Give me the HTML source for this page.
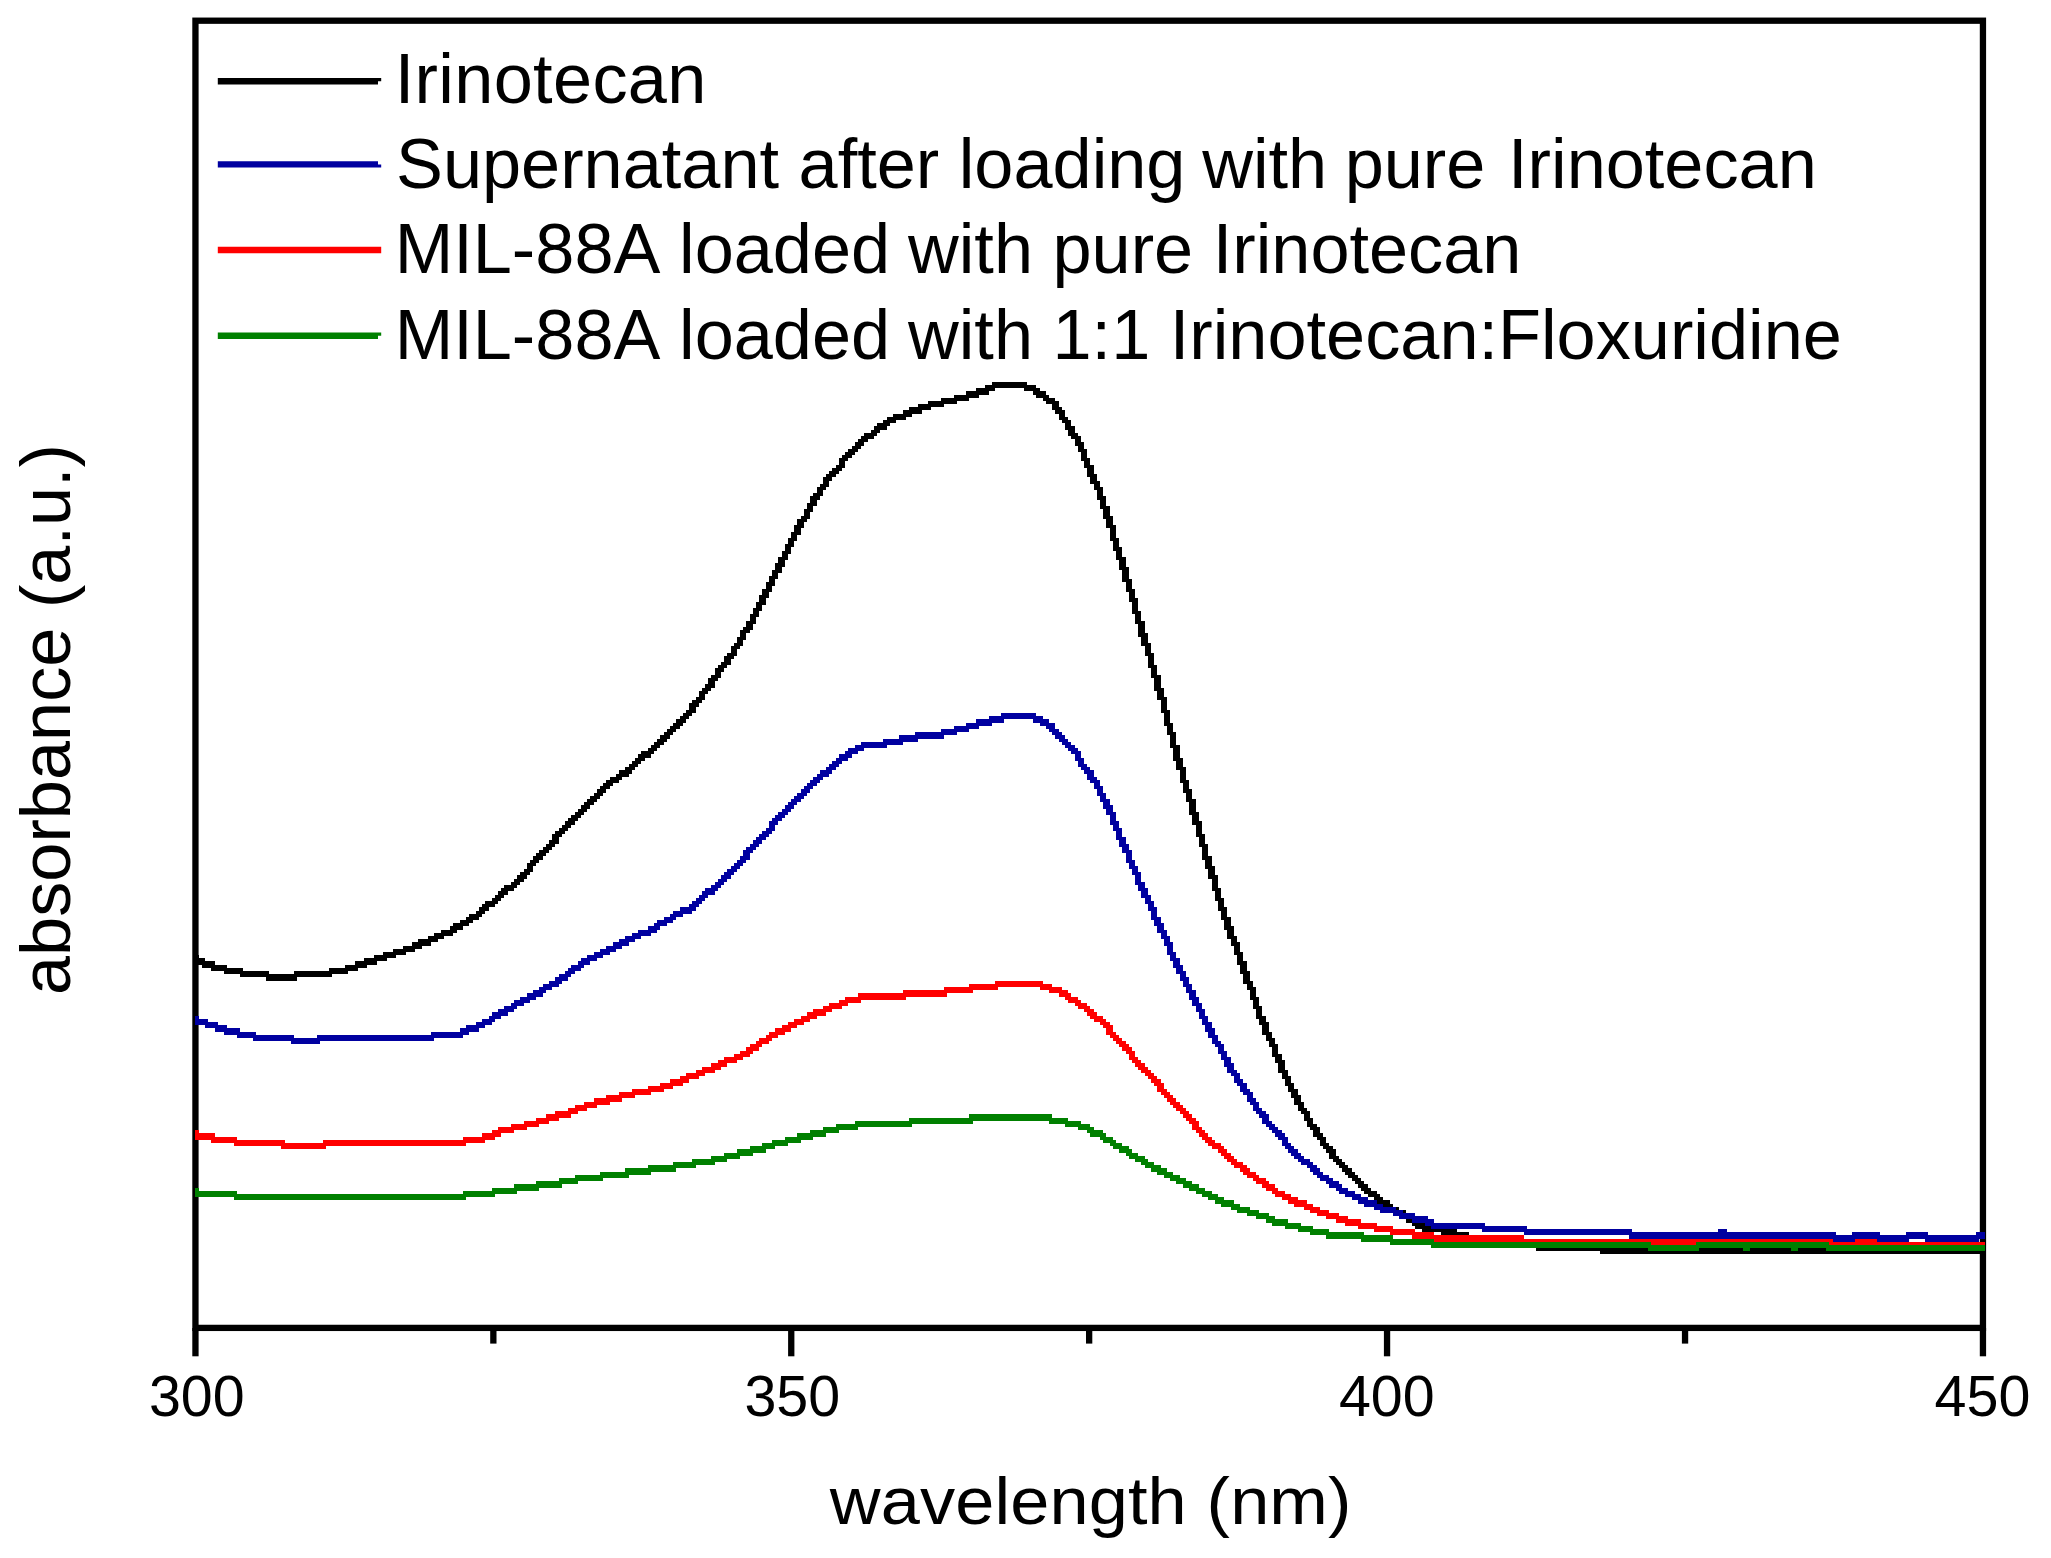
<!DOCTYPE html>
<html lang="en">
<head>
<meta charset="utf-8">
<title>UV-Vis absorbance</title>
<style>
html,body{margin:0;padding:0;background:#fff;}
body{width:2051px;height:1558px;overflow:hidden;}
svg{display:block;}
text{font-family:"Liberation Sans",Arial,sans-serif;fill:#000;}
.lg{font-size:70.3px;}
.tk{font-size:57.4px;text-anchor:middle;}
.ax{font-size:70.3px;text-anchor:middle;}
</style>
</head>
<body>
<svg width="2051" height="1558" viewBox="0 0 2051 1558">
<rect x="0" y="0" width="2051" height="1558" fill="#fff"/>
<!-- frame -->
<rect x="195.45" y="20.7" width="1787.5" height="1307.2" fill="none" stroke="#000" stroke-width="6.3"/>
<!-- ticks -->
<g fill="#000">
<rect x="192.3" y="1328" width="6.3" height="28.3"/>
<rect x="788.1" y="1328" width="6.3" height="28.3"/>
<rect x="1383.9" y="1328" width="6.3" height="28.3"/>
<rect x="1979.8" y="1328" width="6.3" height="28.3"/>
<rect x="490.2" y="1328" width="6.3" height="15.6"/>
<rect x="1086.0" y="1328" width="6.3" height="15.6"/>
<rect x="1681.9" y="1328" width="6.3" height="15.6"/>
</g>
<!-- curves -->
<g>
<path d="M992 382h35v3h-35zM985 385h51v3h-51zM976 388h19v3h-19zM1024 388h16v3h-16zM1033 391h13v4h-13zM966 391h23v4h-23zM1036 395h13v3h-13zM954 395h25v3h-25zM1043 398h12v3h-12zM941 398h28v3h-28zM928 401h29v3h-29zM1046 401h13v3h-13zM1052 404h7v3h-7zM918 404h26v3h-26zM909 407h22v3h-22zM1052 407h10v3h-10zM1055 410h10v4h-10zM903 410h19v4h-19zM893 414h19v3h-19zM1059 414h6v3h-6zM1059 417h9v3h-9zM887 417h19v3h-19zM883 420h13v3h-13zM1062 420h9v3h-9zM877 423h13v3h-13zM1065 423h6v3h-6zM1065 426h10v4h-10zM874 426h13v4h-13zM1068 430h7v3h-7zM871 430h9v3h-9zM1068 433h10v3h-10zM864 433h13v3h-13zM1071 436h10v3h-10zM861 436h13v3h-13zM1075 439h6v3h-6zM858 439h10v3h-10zM855 442h9v4h-9zM1075 442h9v4h-9zM1078 446h6v3h-6zM852 446h9v3h-9zM1078 449h9v3h-9zM848 449h10v3h-10zM845 452h10v3h-10zM1081 452h6v6h-6zM842 455h10v3h-10zM839 458h9v3h-9zM1081 458h9v3h-9zM1084 461h6v4h-6zM839 461h6v4h-6zM1084 465h10v3h-10zM836 465h9v3h-9zM832 468h10v3h-10zM1087 468h7v6h-7zM829 471h10v3h-10zM826 474h10v3h-10zM1087 474h10v3h-10zM1090 477h7v4h-7zM823 477h9v4h-9zM823 481h6v3h-6zM1090 481h10v3h-10zM1094 484h6v3h-6zM820 484h9v3h-9zM817 487h9v3h-9zM1094 487h9v3h-9zM817 490h6v3h-6zM1097 490h6v6h-6zM813 493h10v3h-10zM810 496h10v4h-10zM1097 496h9v4h-9zM810 500h7v3h-7zM1100 500h6v6h-6zM807 503h10v3h-10zM807 506h6v3h-6zM1100 506h10v3h-10zM804 509h9v3h-9zM1103 509h7v7h-7zM804 512h6v4h-6zM1103 516h10v3h-10zM801 516h9v3h-9zM797 519h10v3h-10zM1106 519h7v6h-7zM797 522h7v3h-7zM1106 525h10v3h-10zM794 525h10v3h-10zM794 528h7v4h-7zM791 532h10v3h-10zM1110 528h6v10h-6zM791 535h6v3h-6zM1110 538h9v3h-9zM788 538h9v3h-9zM788 541h6v3h-6zM1113 541h6v6h-6zM785 544h9v3h-9zM1113 547h9v4h-9zM785 547h6v4h-6zM782 551h9v3h-9zM1116 551h6v6h-6zM782 554h6v3h-6zM1116 557h10v3h-10zM778 557h10v3h-10zM778 560h7v3h-7zM1119 560h7v7h-7zM775 563h10v4h-10zM775 567h7v3h-7zM1119 567h10v3h-10zM772 570h10v3h-10zM772 573h6v3h-6zM1122 570h7v9h-7zM769 576h9v3h-9zM1122 579h10v3h-10zM769 579h6v3h-6zM766 582h9v4h-9zM1126 582h6v7h-6zM766 586h6v3h-6zM762 589h10v3h-10zM1126 589h9v3h-9zM762 592h7v3h-7zM1129 592h6v6h-6zM759 595h10v3h-10zM759 598h7v4h-7zM1129 598h9v4h-9zM756 602h10v3h-10zM756 605h6v3h-6zM1132 602h6v9h-6zM753 608h9v3h-9zM753 611h6v3h-6zM1132 611h9v3h-9zM750 614h9v3h-9zM1135 614h6v7h-6zM750 617h6v4h-6zM746 621h10v3h-10zM1135 621h10v3h-10zM746 624h7v3h-7zM743 627h10v3h-10zM1138 624h7v9h-7zM740 630h10v3h-10zM740 633h6v4h-6zM1138 633h10v4h-10zM737 637h9v3h-9zM1141 637h7v6h-7zM737 640h6v3h-6zM1141 643h10v3h-10zM734 643h9v3h-9zM731 646h9v3h-9zM1145 646h6v7h-6zM731 649h6v4h-6zM727 653h10v3h-10zM1145 653h9v3h-9zM724 656h10v3h-10zM724 659h7v3h-7zM1148 656h6v9h-6zM721 662h10v3h-10zM1148 665h9v3h-9zM718 665h9v3h-9zM715 668h9v4h-9zM1151 668h6v7h-6zM715 672h6v3h-6zM711 675h10v3h-10zM1151 675h10v3h-10zM708 678h10v3h-10zM708 681h7v3h-7zM1154 678h7v10h-7zM705 684h10v4h-10zM1154 688h10v3h-10zM702 688h9v3h-9zM699 691h9v3h-9zM1157 691h7v6h-7zM699 694h6v3h-6zM696 697h9v3h-9zM1157 697h10v3h-10zM692 700h10v3h-10zM689 703h10v4h-10zM1161 700h6v10h-6zM689 707h7v3h-7zM1161 710h9v3h-9zM686 710h10v3h-10zM683 713h9v3h-9zM680 716h9v3h-9zM1164 713h6v10h-6zM676 719h10v4h-10zM673 723h10v3h-10zM1164 723h9v3h-9zM670 726h10v3h-10zM1167 726h6v6h-6zM667 729h9v3h-9zM664 732h9v3h-9zM1167 732h9v3h-9zM660 735h10v4h-10zM657 739h10v3h-10zM1170 735h6v10h-6zM654 742h10v3h-10zM651 745h9v3h-9zM1170 745h10v3h-10zM648 748h9v3h-9zM641 751h13v3h-13zM1173 748h7v10h-7zM638 754h13v4h-13zM635 758h10v3h-10zM1173 758h10v3h-10zM632 761h9v3h-9zM1176 761h7v6h-7zM629 764h9v3h-9zM1176 767h10v3h-10zM625 767h10v3h-10zM619 770h13v4h-13zM616 774h13v3h-13zM1180 770h6v10h-6zM610 777h12v3h-12zM606 780h13v3h-13zM1180 780h9v3h-9zM603 783h10v3h-10zM1183 783h6v6h-6zM600 786h10v3h-10zM1183 789h9v4h-9zM597 789h9v4h-9zM594 793h9v3h-9zM1186 793h6v6h-6zM590 796h10v3h-10zM587 799h10v3h-10zM1186 799h10v3h-10zM584 802h10v3h-10zM581 805h9v4h-9zM1189 802h7v10h-7zM578 809h9v3h-9zM575 812h9v3h-9zM1189 812h10v3h-10zM571 815h10v3h-10zM1192 815h7v6h-7zM568 818h10v3h-10zM565 821h10v4h-10zM1192 821h10v4h-10zM562 825h9v3h-9zM559 828h9v3h-9zM1196 825h6v9h-6zM555 831h10v3h-10zM552 834h10v3h-10zM1196 834h9v3h-9zM552 837h7v3h-7zM1199 837h6v7h-6zM549 840h10v4h-10zM546 844h9v3h-9zM1199 844h9v3h-9zM543 847h9v3h-9zM539 850h10v3h-10zM1202 847h6v9h-6zM536 853h10v3h-10zM1202 856h10v4h-10zM533 856h10v4h-10zM530 860h9v3h-9zM1205 860h7v6h-7zM527 863h9v3h-9zM527 866h6v3h-6zM1205 866h10v3h-10zM524 869h9v3h-9zM1208 869h7v6h-7zM520 872h10v3h-10zM517 875h10v4h-10zM1208 875h10v4h-10zM514 879h10v3h-10zM511 882h9v3h-9zM1212 879h6v9h-6zM504 885h13v3h-13zM1212 888h9v3h-9zM501 888h13v3h-13zM498 891h10v4h-10zM1215 891h6v7h-6zM495 895h9v3h-9zM1215 898h9v3h-9zM492 898h9v3h-9zM485 901h13v3h-13zM1218 901h6v6h-6zM482 904h13v3h-13zM1218 907h9v4h-9zM479 907h10v4h-10zM476 911h9v3h-9zM1221 911h6v6h-6zM469 914h13v3h-13zM466 917h13v3h-13zM1221 917h10v3h-10zM460 920h13v3h-13zM1224 920h7v6h-7zM453 923h16v3h-16zM1224 926h10v4h-10zM450 926h13v4h-13zM441 930h16v3h-16zM1227 930h7v6h-7zM434 933h19v3h-19zM428 936h16v3h-16zM1227 936h10v3h-10zM1231 939h6v3h-6zM418 939h20v3h-20zM1231 942h9v4h-9zM412 942h19v4h-19zM403 946h19v3h-19zM1234 946h6v6h-6zM393 949h22v3h-22zM383 952h23v3h-23zM1234 952h9v3h-9zM374 955h22v3h-22zM195 955h4v3h-4zM1237 955h6v6h-6zM364 958h23v3h-23zM195 958h10v3h-10zM195 961h20v4h-20zM1237 961h10v4h-10zM355 961h22v4h-22zM345 965h22v3h-22zM202 965h25v3h-25zM1240 965h7v6h-7zM211 968h32v3h-32zM329 968h29v3h-29zM1240 971h10v3h-10zM294 971h54v3h-54zM224 971h45v3h-45zM240 974h92v3h-92zM1243 974h7v7h-7zM266 977h31v4h-31zM1243 981h10v3h-10zM1247 984h6v3h-6zM1247 987h9v3h-9zM1250 990h6v7h-6zM1250 997h9v3h-9zM1253 1000h6v6h-6zM1253 1006h9v3h-9zM1256 1009h6v7h-6zM1256 1016h10v3h-10zM1259 1019h7v3h-7zM1259 1022h10v3h-10zM1262 1025h7v7h-7zM1262 1032h10v3h-10zM1266 1035h6v3h-6zM1266 1038h9v3h-9zM1269 1041h6v3h-6zM1269 1044h9v3h-9zM1272 1047h6v7h-6zM1272 1054h10v3h-10zM1275 1057h7v3h-7zM1275 1060h10v3h-10zM1278 1063h7v7h-7zM1278 1070h10v3h-10zM1282 1073h6v3h-6zM1282 1076h9v3h-9zM1285 1079h6v4h-6zM1285 1083h9v3h-9zM1288 1086h6v3h-6zM1288 1089h10v3h-10zM1291 1092h7v3h-7zM1291 1095h10v3h-10zM1294 1098h7v4h-7zM1294 1102h10v3h-10zM1298 1105h6v3h-6zM1298 1108h9v3h-9zM1301 1111h9v3h-9zM1304 1114h6v4h-6zM1304 1118h9v3h-9zM1307 1121h6v3h-6zM1307 1124h10v3h-10zM1310 1127h10v3h-10zM1313 1130h7v3h-7zM1313 1133h10v4h-10zM1317 1137h9v3h-9zM1320 1140h6v3h-6zM1320 1143h9v3h-9zM1323 1146h10v3h-10zM1326 1149h10v4h-10zM1329 1153h7v3h-7zM1329 1156h10v3h-10zM1333 1159h9v3h-9zM1336 1162h9v3h-9zM1339 1165h9v3h-9zM1342 1168h10v4h-10zM1345 1172h10v3h-10zM1348 1175h10v3h-10zM1352 1178h9v3h-9zM1355 1181h9v3h-9zM1358 1184h10v4h-10zM1361 1188h10v3h-10zM1364 1191h13v3h-13zM1368 1194h12v3h-12zM1374 1197h9v3h-9zM1377 1200h13v4h-13zM1380 1204h13v3h-13zM1387 1207h12v3h-12zM1390 1210h16v3h-16zM1396 1213h13v3h-13zM1403 1216h12v3h-12zM1406 1219h13v4h-13zM1412 1223h13v3h-13zM1415 1226h29v3h-29zM1422 1229h35v3h-35zM1441 1232h28v3h-28zM1454 1235h41v4h-41zM1466 1239h51v3h-51zM1492 1242h48v3h-48zM1514 1245h89v3h-89zM1536 1248h449v3h-449zM1600 1251h385v3h-385z" fill="#000000"/>
<path d="M1001 713h35v3h-35zM989 716h54v3h-54zM976 719h28v4h-28zM1033 719h16v4h-16zM1040 723h15v3h-15zM966 723h26v3h-26zM1046 726h9v3h-9zM954 726h25v3h-25zM1049 729h10v3h-10zM941 729h28v3h-28zM915 732h42v3h-42zM1052 732h10v3h-10zM1055 735h10v4h-10zM899 735h45v4h-45zM883 739h35v3h-35zM1059 739h9v3h-9zM1062 742h9v3h-9zM861 742h42v3h-42zM1065 745h10v3h-10zM855 745h32v3h-32zM848 748h16v3h-16zM1068 748h10v3h-10zM1071 751h10v3h-10zM845 751h13v3h-13zM1075 754h6v4h-6zM839 754h13v4h-13zM1075 758h9v3h-9zM836 758h12v3h-12zM832 761h10v3h-10zM1078 761h6v3h-6zM1078 764h9v3h-9zM829 764h10v3h-10zM826 767h10v3h-10zM1081 767h9v3h-9zM820 770h12v4h-12zM1084 770h10v4h-10zM817 774h12v3h-12zM1087 774h7v3h-7zM1087 777h10v3h-10zM813 777h10v3h-10zM810 780h10v3h-10zM1090 780h10v3h-10zM807 783h10v3h-10zM1094 783h6v3h-6zM804 786h9v3h-9zM1094 786h9v3h-9zM1097 789h6v4h-6zM801 789h9v4h-9zM797 793h10v3h-10zM1097 793h9v3h-9zM794 796h10v3h-10zM1100 796h6v3h-6zM1100 799h10v3h-10zM791 799h10v3h-10zM1103 802h7v3h-7zM788 802h9v3h-9zM785 805h9v4h-9zM1103 805h10v4h-10zM782 809h9v3h-9zM1106 809h7v3h-7zM1106 812h10v3h-10zM778 812h10v3h-10zM775 815h10v3h-10zM1110 815h6v6h-6zM772 818h10v3h-10zM769 821h9v4h-9zM1110 821h9v4h-9zM1113 825h6v3h-6zM769 825h6v3h-6zM1113 828h9v3h-9zM766 828h9v3h-9zM762 831h10v3h-10zM1116 831h6v6h-6zM759 834h10v3h-10zM756 837h10v3h-10zM1116 837h10v3h-10zM1119 840h7v4h-7zM753 840h9v4h-9zM1119 844h10v3h-10zM750 844h9v3h-9zM746 847h10v3h-10zM1122 847h7v3h-7zM1122 850h10v3h-10zM743 850h10v3h-10zM743 853h7v3h-7zM1126 853h6v7h-6zM740 856h10v4h-10zM1126 860h9v3h-9zM737 860h9v3h-9zM734 863h9v3h-9zM1129 863h6v3h-6zM731 866h9v3h-9zM1129 866h9v3h-9zM727 869h10v3h-10zM1132 869h6v3h-6zM1132 872h9v3h-9zM724 872h10v3h-10zM721 875h10v4h-10zM1135 875h6v7h-6zM718 879h9v3h-9zM1135 882h10v3h-10zM715 882h9v3h-9zM711 885h10v3h-10zM1138 885h7v3h-7zM1138 888h10v3h-10zM705 888h13v3h-13zM1141 891h7v4h-7zM702 891h13v4h-13zM1141 895h10v3h-10zM699 895h9v3h-9zM1145 898h6v3h-6zM696 898h9v3h-9zM692 901h10v3h-10zM1145 901h9v3h-9zM689 904h10v3h-10zM1148 904h6v3h-6zM1148 907h9v4h-9zM680 907h16v4h-16zM673 911h19v3h-19zM1151 911h6v6h-6zM670 914h13v3h-13zM664 917h12v3h-12zM1151 917h10v3h-10zM1154 920h7v3h-7zM657 920h16v3h-16zM1154 923h10v3h-10zM654 923h13v3h-13zM648 926h12v4h-12zM1157 926h7v4h-7zM638 930h19v3h-19zM1157 930h10v3h-10zM632 933h19v3h-19zM1161 933h6v3h-6zM625 936h16v3h-16zM1161 936h9v3h-9zM1164 939h6v3h-6zM619 939h16v3h-16zM1164 942h9v4h-9zM613 942h16v4h-16zM606 946h16v3h-16zM1167 946h6v6h-6zM600 949h16v3h-16zM1167 952h9v3h-9zM594 952h16v3h-16zM587 955h16v3h-16zM1170 955h6v3h-6zM1170 958h10v3h-10zM581 958h16v3h-16zM1173 961h7v4h-7zM578 961h12v4h-12zM571 965h13v3h-13zM1173 965h10v3h-10zM1176 968h7v3h-7zM568 968h13v3h-13zM1176 971h10v3h-10zM565 971h10v3h-10zM1180 974h6v3h-6zM559 974h12v3h-12zM1180 977h9v4h-9zM555 977h13v4h-13zM1183 981h6v3h-6zM549 981h13v3h-13zM1183 984h9v3h-9zM543 984h16v3h-16zM539 987h13v3h-13zM1186 987h6v3h-6zM533 990h13v3h-13zM1186 990h10v3h-10zM1189 993h7v4h-7zM527 993h16v4h-16zM1189 997h10v3h-10zM520 997h16v3h-16zM1192 1000h7v3h-7zM514 1000h16v3h-16zM511 1003h13v3h-13zM1192 1003h10v3h-10zM504 1006h13v3h-13zM1196 1006h6v3h-6zM498 1009h16v3h-16zM1196 1009h9v3h-9zM492 1012h16v4h-16zM1199 1012h6v4h-6zM489 1016h12v3h-12zM195 1016h4v3h-4zM1199 1016h9v3h-9zM195 1019h13v3h-13zM1202 1019h6v3h-6zM482 1019h13v3h-13zM476 1022h16v3h-16zM1202 1022h10v3h-10zM195 1022h23v3h-23zM205 1025h22v3h-22zM1205 1025h7v3h-7zM466 1025h19v3h-19zM215 1028h25v4h-25zM460 1028h19v4h-19zM1205 1028h10v4h-10zM224 1032h32v3h-32zM1208 1032h7v3h-7zM431 1032h38v3h-38zM317 1035h146v3h-146zM1208 1035h10v3h-10zM237 1035h57v3h-57zM1212 1038h6v3h-6zM253 1038h181v3h-181zM1212 1041h9v3h-9zM291 1041h29v3h-29zM1215 1044h9v3h-9zM1218 1047h6v4h-6zM1218 1051h9v3h-9zM1221 1054h6v3h-6zM1221 1057h10v3h-10zM1224 1060h7v3h-7zM1224 1063h10v4h-10zM1227 1067h7v3h-7zM1227 1070h10v3h-10zM1231 1073h9v3h-9zM1234 1076h6v3h-6zM1234 1079h9v4h-9zM1237 1083h10v3h-10zM1240 1086h7v3h-7zM1240 1089h10v3h-10zM1243 1092h10v3h-10zM1247 1095h6v3h-6zM1247 1098h9v4h-9zM1250 1102h9v3h-9zM1253 1105h6v3h-6zM1253 1108h9v3h-9zM1256 1111h10v3h-10zM1259 1114h10v4h-10zM1262 1118h7v3h-7zM1262 1121h10v3h-10zM1266 1124h9v3h-9zM1269 1127h9v3h-9zM1272 1130h10v3h-10zM1275 1133h10v4h-10zM1278 1137h10v3h-10zM1282 1140h6v3h-6zM1282 1143h9v3h-9zM1285 1146h9v3h-9zM1288 1149h10v4h-10zM1291 1153h10v3h-10zM1294 1156h10v3h-10zM1298 1159h12v3h-12zM1301 1162h12v3h-12zM1307 1165h10v3h-10zM1310 1168h10v4h-10zM1313 1172h10v3h-10zM1317 1175h12v3h-12zM1320 1178h13v3h-13zM1326 1181h13v3h-13zM1329 1184h13v4h-13zM1336 1188h12v3h-12zM1339 1191h16v3h-16zM1345 1194h16v3h-16zM1352 1197h16v3h-16zM1358 1200h19v4h-19zM1364 1204h19v3h-19zM1374 1207h22v3h-22zM1380 1210h23v3h-23zM1393 1213h22v3h-22zM1399 1216h29v3h-29zM1412 1219h22v4h-22zM1425 1223h60v3h-60zM1431 1226h96v3h-96zM1718 1229h9v3h-9zM1482 1229h150v3h-150zM1852 1232h28v3h-28zM1524 1232h312v3h-312zM1976 1232h9v3h-9zM1906 1232h22v3h-22zM1629 1235h356v4h-356zM1833 1239h22v3h-22zM1877 1239h32v3h-32zM1925 1239h54v3h-54z" fill="#0000a0"/>
<path d="M995 981h48v3h-48zM969 984h83v3h-83zM1040 987h22v3h-22zM944 987h54v3h-54zM903 990h70v3h-70zM1049 990h19v3h-19zM1059 993h12v4h-12zM858 993h89v4h-89zM845 997h61v3h-61zM1065 997h13v3h-13zM839 1000h22v3h-22zM1068 1000h13v3h-13zM1075 1003h12v3h-12zM829 1003h19v3h-19zM823 1006h19v3h-19zM1078 1006h12v3h-12zM1084 1009h10v3h-10zM813 1009h19v3h-19zM807 1012h19v4h-19zM1087 1012h10v4h-10zM801 1016h16v3h-16zM1090 1016h13v3h-13zM1094 1019h12v3h-12zM794 1019h16v3h-16zM1100 1022h10v3h-10zM788 1022h16v3h-16zM1103 1025h10v3h-10zM782 1025h15v3h-15zM775 1028h16v4h-16zM1106 1028h7v4h-7zM1106 1032h10v3h-10zM769 1032h16v3h-16zM1110 1035h9v3h-9zM766 1035h12v3h-12zM1113 1038h9v3h-9zM759 1038h13v3h-13zM756 1041h13v3h-13zM1116 1041h10v3h-10zM750 1044h12v3h-12zM1119 1044h10v3h-10zM746 1047h13v4h-13zM1122 1047h10v4h-10zM1126 1051h9v3h-9zM740 1051h13v3h-13zM734 1054h16v3h-16zM1129 1054h6v3h-6zM724 1057h19v3h-19zM1129 1057h9v3h-9zM718 1060h19v3h-19zM1132 1060h9v3h-9zM711 1063h16v4h-16zM1135 1063h10v4h-10zM702 1067h19v3h-19zM1138 1067h10v3h-10zM696 1070h19v3h-19zM1141 1070h10v3h-10zM686 1073h19v3h-19zM1145 1073h9v3h-9zM1148 1076h9v3h-9zM680 1076h19v3h-19zM670 1079h19v4h-19zM1151 1079h10v4h-10zM1154 1083h10v3h-10zM660 1083h23v3h-23zM648 1086h25v3h-25zM1157 1086h7v3h-7zM1157 1089h10v3h-10zM632 1089h32v3h-32zM1161 1092h9v3h-9zM619 1092h32v3h-32zM606 1095h29v3h-29zM1164 1095h9v3h-9zM594 1098h28v4h-28zM1167 1098h9v4h-9zM1170 1102h10v3h-10zM584 1102h26v3h-26zM1173 1105h10v3h-10zM575 1105h22v3h-22zM1176 1108h10v3h-10zM568 1108h19v3h-19zM555 1111h23v3h-23zM1180 1111h9v3h-9zM1183 1114h9v4h-9zM546 1114h25v4h-25zM1186 1118h10v3h-10zM536 1118h23v3h-23zM1189 1121h10v3h-10zM524 1121h25v3h-25zM1192 1124h7v3h-7zM511 1124h28v3h-28zM1192 1127h10v3h-10zM498 1127h29v3h-29zM195 1130h4v3h-4zM1196 1130h9v3h-9zM492 1130h22v3h-22zM195 1133h20v4h-20zM482 1133h19v4h-19zM1199 1133h9v4h-9zM463 1137h32v3h-32zM1202 1137h10v3h-10zM195 1137h42v3h-42zM323 1140h162v3h-162zM211 1140h74v3h-74zM1205 1140h10v3h-10zM1208 1143h13v3h-13zM234 1143h232v3h-232zM1212 1146h12v3h-12zM281 1146h45v3h-45zM1218 1149h9v4h-9zM1221 1153h10v3h-10zM1224 1156h10v3h-10zM1227 1159h10v3h-10zM1231 1162h12v3h-12zM1234 1165h13v3h-13zM1240 1168h10v4h-10zM1243 1172h13v3h-13zM1247 1175h12v3h-12zM1253 1178h13v3h-13zM1256 1181h13v3h-13zM1262 1184h13v4h-13zM1266 1188h12v3h-12zM1272 1191h13v3h-13zM1275 1194h16v3h-16zM1282 1197h16v3h-16zM1288 1200h19v4h-19zM1294 1204h19v3h-19zM1304 1207h16v3h-16zM1310 1210h19v3h-19zM1317 1213h22v3h-22zM1326 1216h22v3h-22zM1336 1219h25v4h-25zM1345 1223h32v3h-32zM1358 1226h35v3h-35zM1374 1229h41v3h-41zM1390 1232h44v3h-44zM1412 1235h112v4h-112zM1855 1239h22v3h-22zM1431 1239h402v3h-402zM1520 1242h465v3h-465zM1829 1245h29v3h-29zM1874 1245h111v3h-111z" fill="#ff0000"/>
<path d="M969 1114h83v4h-83zM909 1118h159v3h-159zM855 1121h118v3h-118zM1049 1121h32v3h-32zM836 1124h76v3h-76zM1065 1124h25v3h-25zM1078 1127h16v3h-16zM823 1127h35v3h-35zM1087 1130h16v3h-16zM810 1130h29v3h-29zM797 1133h29v4h-29zM1090 1133h16v4h-16zM785 1137h28v3h-28zM1100 1137h13v3h-13zM1103 1140h13v3h-13zM772 1140h29v3h-29zM1110 1143h12v3h-12zM762 1143h26v3h-26zM1113 1146h16v3h-16zM750 1146h25v3h-25zM1119 1149h13v4h-13zM737 1149h29v4h-29zM724 1153h29v3h-29zM1126 1153h12v3h-12zM1129 1156h16v3h-16zM711 1156h29v3h-29zM1135 1159h13v3h-13zM692 1159h35v3h-35zM1141 1162h13v3h-13zM673 1162h42v3h-42zM1145 1165h16v3h-16zM648 1165h48v3h-48zM1151 1168h16v4h-16zM625 1168h51v4h-51zM1157 1172h16v3h-16zM600 1172h51v3h-51zM1164 1175h16v3h-16zM575 1175h54v3h-54zM559 1178h44v3h-44zM1170 1178h16v3h-16zM536 1181h42v3h-42zM1176 1181h16v3h-16zM1183 1184h16v4h-16zM514 1184h48v4h-48zM195 1188h4v3h-4zM1189 1188h16v3h-16zM492 1188h47v3h-47zM463 1191h54v3h-54zM195 1191h42v3h-42zM1196 1191h16v3h-16zM195 1194h300v3h-300zM1202 1194h16v3h-16zM234 1197h232v3h-232zM1208 1197h16v3h-16zM1215 1200h19v4h-19zM1221 1204h19v3h-19zM1231 1207h19v3h-19zM1237 1210h22v3h-22zM1247 1213h22v3h-22zM1256 1216h19v3h-19zM1266 1219h22v4h-22zM1272 1223h29v3h-29zM1285 1226h28v3h-28zM1298 1229h31v3h-31zM1310 1232h54v3h-54zM1326 1235h67v4h-67zM1361 1239h73v3h-73zM1390 1242h261v3h-261zM1696 1242h133v3h-133zM1431 1245h554v3h-554zM1791 1248h7v3h-7zM1743 1248h7v3h-7zM1648 1248h51v3h-51zM1826 1248h159v3h-159z" fill="#008000"/>
</g>
<!-- legend -->
<g>
<path d="M217.8 78.1H381.2V81.3H378V84.5H217.8z" fill="#000"/>
<path d="M217.8 161.2H378V164.4H381.2V167.6H217.8z" fill="#0000a0"/>
<path d="M217.8 246.8H381.2V253.2H217.8z" fill="#ff0000"/>
<path d="M217.8 332.6H381.2V335.8H378V339H217.8z" fill="#008000"/>
</g>
<text class="lg" x="394.7" y="103.2" textLength="311.7" lengthAdjust="spacing">Irinotecan</text>
<text class="lg" x="396" y="188.2">Supernatant after loading <tspan dx="-2.8">with </tspan><tspan dx="-2.1">pure </tspan><tspan dx="3.2">Irinotecan</tspan></text>
<text class="lg" x="394.7" y="272.7">MIL-88A <tspan dx="3">loaded </tspan><tspan dx="-1.7">with pure Irinotecan</tspan></text>
<text class="lg" x="394.7" y="358.5">MIL-88A <tspan dx="3">loaded </tspan><tspan dx="-1.7">with 1:1 Irinotecan:Floxuridine</tspan></text>
<!-- tick labels -->
<text class="tk" x="196.8" y="1416.3">300</text>
<text class="tk" x="792.3" y="1416.3">350</text>
<text class="tk" x="1386.8" y="1416.3">400</text>
<text class="tk" x="1982.5" y="1416.3">450</text>
<!-- axis titles -->
<text class="ax" transform="translate(1090.6,1524) scale(1,0.96)" textLength="521.8" lengthAdjust="spacing">wavelength (nm)</text>
<text class="ax" transform="translate(70.4,719.5) rotate(-90)">absorbance (a.u.)</text>
</svg>
</body>
</html>
